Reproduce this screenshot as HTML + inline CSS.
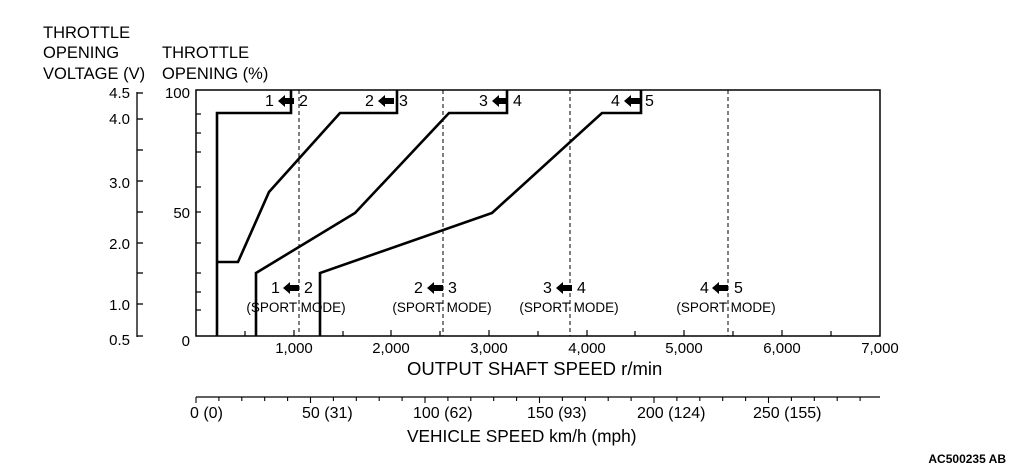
<!DOCTYPE html>
<html><head><meta charset="utf-8"><style>
body{margin:0;background:#fff}
svg{display:block;font-family:"Liberation Sans",Arial,sans-serif;fill:#000}
text{font-size:15px}
</style></head><body>
<svg width="1010" height="468" viewBox="0 0 1010 468">
<!-- axis titles -->
<g style="font-size:16.5px">
<text x="43" y="38" style="font-size:16.5px">THROTTLE</text>
<text x="43" y="58" style="font-size:16.5px">OPENING</text>
<text x="43" y="79" style="font-size:16.5px">VOLTAGE (V)</text>
<text x="162" y="58" style="font-size:16.5px">THROTTLE</text>
<text x="162" y="79" style="font-size:16.5px">OPENING (%)</text>
</g>
<!-- voltage axis -->
<g stroke="#000" stroke-width="1.3" fill="none">
<line x1="137" y1="92" x2="137" y2="337"/>
<line x1="137" y1="93" x2="143" y2="93"/>
<line x1="137" y1="119" x2="143" y2="119"/>
<line x1="137" y1="150" x2="143" y2="150"/>
<line x1="137" y1="181" x2="143" y2="181"/>
<line x1="137" y1="212" x2="143" y2="212"/>
<line x1="137" y1="243" x2="143" y2="243"/>
<line x1="137" y1="273" x2="143" y2="273"/>
<line x1="137" y1="304" x2="143" y2="304"/>
<line x1="137" y1="336" x2="143" y2="336"/>
</g>
<g text-anchor="end">
<text x="130" y="98">4.5</text>
<text x="130" y="124">4.0</text>
<text x="130" y="188">3.0</text>
<text x="130" y="249">2.0</text>
<text x="130" y="310">1.0</text>
<text x="130" y="345">0.5</text>
<text x="190" y="98">100</text>
<text x="190" y="218">50</text>
<text x="190" y="346">0</text>
</g>
<!-- plot box -->
<rect x="196" y="90" width="684" height="246" fill="none" stroke="#000" stroke-width="1.5"/>
<g stroke="#000" stroke-width="1.2">
<line x1="196" y1="114" x2="201" y2="114"/><line x1="196" y1="133" x2="201" y2="133"/>
<line x1="196" y1="187" x2="201" y2="187"/><line x1="196" y1="243" x2="201" y2="243"/>
<line x1="196" y1="310" x2="201" y2="310"/><line x1="196" y1="292" x2="201" y2="292"/>
<line x1="196" y1="152" x2="201" y2="152"/><line x1="196" y1="212" x2="201" y2="212"/>
<line x1="196" y1="273" x2="201" y2="273"/>
</g>
<!-- x ticks -->
<g stroke="#000" stroke-width="1.2">
<line x1="245" y1="336" x2="245" y2="331"/><line x1="294" y1="336" x2="294" y2="330"/>
<line x1="343" y1="336" x2="343" y2="331"/><line x1="391" y1="336" x2="391" y2="330"/>
<line x1="440" y1="336" x2="440" y2="331"/><line x1="489" y1="336" x2="489" y2="330"/>
<line x1="538" y1="336" x2="538" y2="331"/><line x1="587" y1="336" x2="587" y2="330"/>
<line x1="635" y1="336" x2="635" y2="331"/><line x1="684" y1="336" x2="684" y2="330"/>
<line x1="733" y1="336" x2="733" y2="331"/><line x1="782" y1="336" x2="782" y2="330"/>
<line x1="831" y1="336" x2="831" y2="331"/>
</g>
<g text-anchor="middle">
<text x="294" y="353">1,000</text><text x="391" y="353">2,000</text>
<text x="489" y="353">3,000</text><text x="587" y="353">4,000</text>
<text x="684" y="353">5,000</text><text x="782" y="353">6,000</text>
<text x="880" y="353">7,000</text>
</g>
<text x="407" y="375" style="font-size:18.5px">OUTPUT SHAFT SPEED r/min</text>
<!-- dashed lines -->
<g stroke="#000" stroke-width="1" stroke-dasharray="4,3">
<line x1="299" y1="90" x2="299" y2="336"/>
<line x1="443" y1="90" x2="443" y2="336"/>
<line x1="570" y1="90" x2="570" y2="336"/>
<line x1="728" y1="90" x2="728" y2="336"/>
</g>
<!-- curves -->
<g stroke="#000" stroke-width="2.6" fill="none" stroke-linejoin="miter">
<polyline points="217,336 217,113 291,113 291,90"/>
<polyline points="217,262 238,262 269,192 340,113 397,113 397,90"/>
<polyline points="256,336 256,273 355,213 449,113 507,113 507,90"/>
<polyline points="320,336 320,273 492,213 602,113 641,113 641,90"/>
</g>
<!-- shift labels -->
<defs>
<g id="ar"><polygon points="0,0 7,-6 7,-3 16,-3 16,3 7,3 7,6"/></g>
</defs>
<g style="font-size:16px">
<text x="265" y="106" style="font-size:16px">1</text><use href="#ar" x="278" y="101"/><text x="299" y="106" style="font-size:16px">2</text>
<text x="365" y="106" style="font-size:16px">2</text><use href="#ar" x="378" y="101"/><text x="399" y="106" style="font-size:16px">3</text>
<text x="479" y="106" style="font-size:16px">3</text><use href="#ar" x="492" y="101"/><text x="513" y="106" style="font-size:16px">4</text>
<text x="611" y="106" style="font-size:16px">4</text><use href="#ar" x="624" y="101"/><text x="645" y="106" style="font-size:16px">5</text>
<text x="271" y="293" style="font-size:16px">1</text><use href="#ar" x="283" y="288"/><text x="304" y="293" style="font-size:16px">2</text>
<text x="414" y="293" style="font-size:16px">2</text><use href="#ar" x="427" y="288"/><text x="448" y="293" style="font-size:16px">3</text>
<text x="543" y="293" style="font-size:16px">3</text><use href="#ar" x="556" y="288"/><text x="577" y="293" style="font-size:16px">4</text>
<text x="700" y="293" style="font-size:16px">4</text><use href="#ar" x="712" y="288"/><text x="734" y="293" style="font-size:16px">5</text>
</g>
<g text-anchor="middle">
<text x="296" y="312" style="font-size:13.5px">(SPORT MODE)</text>
<text x="442" y="312" style="font-size:13.5px">(SPORT MODE)</text>
<text x="569" y="312" style="font-size:13.5px">(SPORT MODE)</text>
<text x="726" y="312" style="font-size:13.5px">(SPORT MODE)</text>
</g>
<!-- vehicle speed axis -->
<line x1="196" y1="397" x2="880" y2="397" stroke="#000" stroke-width="1.3"/>
<g stroke="#000" stroke-width="1.1">
<line x1="196" y1="397" x2="196" y2="403"/>
<line x1="218.9" y1="397" x2="218.9" y2="401"/>
<line x1="241.8" y1="397" x2="241.8" y2="401"/>
<line x1="264.7" y1="397" x2="264.7" y2="401"/>
<line x1="287.6" y1="397" x2="287.6" y2="401"/>
<line x1="310.5" y1="397" x2="310.5" y2="403"/>
<line x1="333.4" y1="397" x2="333.4" y2="401"/>
<line x1="356.3" y1="397" x2="356.3" y2="401"/>
<line x1="379.2" y1="397" x2="379.2" y2="401"/>
<line x1="402.1" y1="397" x2="402.1" y2="401"/>
<line x1="425" y1="397" x2="425" y2="403"/>
<line x1="447.9" y1="397" x2="447.9" y2="401"/>
<line x1="470.8" y1="397" x2="470.8" y2="401"/>
<line x1="493.7" y1="397" x2="493.7" y2="401"/>
<line x1="516.6" y1="397" x2="516.6" y2="401"/>
<line x1="539.5" y1="397" x2="539.5" y2="403"/>
<line x1="562.4" y1="397" x2="562.4" y2="401"/>
<line x1="585.3" y1="397" x2="585.3" y2="401"/>
<line x1="608.2" y1="397" x2="608.2" y2="401"/>
<line x1="631.1" y1="397" x2="631.1" y2="401"/>
<line x1="654" y1="397" x2="654" y2="403"/>
<line x1="676.9" y1="397" x2="676.9" y2="401"/>
<line x1="699.8" y1="397" x2="699.8" y2="401"/>
<line x1="722.7" y1="397" x2="722.7" y2="401"/>
<line x1="745.6" y1="397" x2="745.6" y2="401"/>
<line x1="768.5" y1="397" x2="768.5" y2="403"/>
<line x1="791.4" y1="397" x2="791.4" y2="401"/>
<line x1="814.3" y1="397" x2="814.3" y2="401"/>
<line x1="837.2" y1="397" x2="837.2" y2="401"/>
<line x1="860.1" y1="397" x2="860.1" y2="401"/>
</g>
<g style="font-size:16px">
<text x="190" y="418" style="font-size:16px">0 (0)</text>
<text x="302" y="418" style="font-size:16px">50 (31)</text>
<text x="413" y="418" style="font-size:16px">100 (62)</text>
<text x="527" y="418" style="font-size:16px">150 (93)</text>
<text x="637" y="418" style="font-size:16px">200 (124)</text>
<text x="753" y="418" style="font-size:16px">250 (155)</text>
</g>
<text x="407" y="442" style="font-size:17.3px">VEHICLE SPEED km/h (mph)</text>
<text x="1006" y="463" text-anchor="end" style="font-size:12px;font-weight:bold">AC500235 AB</text>
</svg>
</body></html>
